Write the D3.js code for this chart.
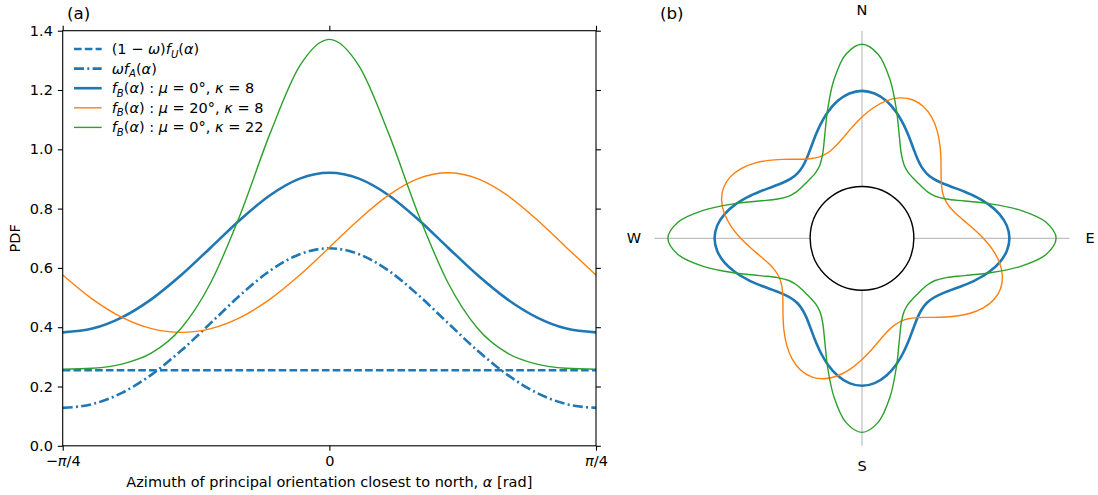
<!DOCTYPE html>
<html>
<head>
<meta charset="utf-8">
<script src="https://cdn.jsdelivr.net/npm/d3@7"></script>
<style>
  body { margin: 0; background: #fff; }
  svg { font-family: "DejaVu Sans", sans-serif; }
</style>
</head>
<body>
<div class="figure"></div>
<script>
// azimuth samples in degrees, -pi/4 .. pi/4
var alphaDeg = [-45, -40, -35, -30, -25, -20, -15, -10, -5, 0, 5, 10, 15, 20, 25, 30, 35, 40, 45];

// values
var uniformPdf = [0.2546, 0.2546, 0.2546, 0.2546, 0.2546, 0.2546, 0.2546, 0.2546, 0.2546, 0.2546,
                  0.2546, 0.2546, 0.2546, 0.2546, 0.2546, 0.2546, 0.2546, 0.2546, 0.2546];
var anisoPdf = [0.1279, 0.1406, 0.1786, 0.2402, 0.3212, 0.4144, 0.5087, 0.5906, 0.6463, 0.6662,
                0.6463, 0.5906, 0.5087, 0.4144, 0.3212, 0.2402, 0.1786, 0.1406, 0.1279];
var mu0k8Pdf = [0.3825, 0.3953, 0.4333, 0.4948, 0.5759, 0.6690, 0.7634, 0.8452, 0.9010, 0.9209,
                0.9010, 0.8452, 0.7634, 0.6690, 0.5759, 0.4948, 0.4333, 0.3953, 0.3825];
var mu20k8Pdf = [0.5759, 0.4948, 0.4333, 0.3953, 0.3825, 0.3953, 0.4333, 0.4948, 0.5759, 0.6690,
                 0.7634, 0.8452, 0.9010, 0.9209, 0.9010, 0.8452, 0.7634, 0.6690, 0.5759];
var mu0k22Pdf = [0.2582, 0.2616, 0.2756, 0.3132, 0.3967, 0.5509, 0.7821, 1.0537, 1.2812, 1.3709,
                 1.2812, 1.0537, 0.7821, 0.5509, 0.3967, 0.3132, 0.2756, 0.2616, 0.2582];

var yTicks = [0, 0.2, 0.4, 0.6, 0.8, 1.0, 1.2, 1.4];
var xTicks = [-45, 0, 45];
var xTickLabels = [[["\u2212"], ["\u03c0", "i"], ["/4"]], [["0"]], [["\u03c0", "i"], ["/4"]]];
var compassLabels = ["N", "E", "S", "W"];
var baseRadius = 0.5;   // polar curves are drawn as baseRadius + pdf
var polarMax = 2.0;

var series = [
  { values: uniformPdf, color: "#1f77b4", width: 2.6, dash: "7.6,3.2", polar: false,
    label: [["(1 \u2212 "], ["\u03c9", "i"], [")"], ["f", "i"], ["U", "si"], ["("], ["\u03b1", "i"], [")"]] },
  { values: anisoPdf, color: "#1f77b4", width: 2.6, dash: "10,3.3,2,3.3", polar: false,
    label: [["\u03c9", "i"], ["f", "i"], ["A", "si"], ["("], ["\u03b1", "i"], [")"]] },
  { values: mu0k8Pdf, color: "#1f77b4", width: 2.6, dash: null, polar: true,
    label: [["f", "i"], ["B", "si"], ["("], ["\u03b1", "i"], [") : "], ["\u03bc", "i"], [" = 0\u00b0, "], ["\u03ba", "i"], [" = 8"]] },
  { values: mu20k8Pdf, color: "#ff7f0e", width: 1.4, dash: null, polar: true,
    label: [["f", "i"], ["B", "si"], ["("], ["\u03b1", "i"], [") : "], ["\u03bc", "i"], [" = 20\u00b0, "], ["\u03ba", "i"], [" = 8"]] },
  { values: mu0k22Pdf, color: "#2ca02c", width: 1.4, dash: null, polar: true,
    label: [["f", "i"], ["B", "si"], ["("], ["\u03b1", "i"], [") : "], ["\u03bc", "i"], [" = 0\u00b0, "], ["\u03ba", "i"], [" = 22"]] }
];

var svgWidth = 1098;
var svgHeight = 495;
var fontSize = 14.5;
var panelFont = 16.7;

var svg = d3.select(".figure")
    .append("svg")
    .attr("width", svgWidth)
    .attr("height", svgHeight);

// write text made of plain / italic / subscript pieces
function mathText(sel, parts, size) {
  var shift = 0;
  parts.forEach(function(p) {
    var style = p[1] || "";
    var t = sel.append("tspan").text(p[0]);
    var want = style.indexOf("s") >= 0 ? size * 0.25 : 0;
    if (want !== shift) { t.attr("dy", want - shift); shift = want; }
    if (style.indexOf("i") >= 0) t.attr("font-style", "italic");
    if (style.indexOf("s") >= 0) t.attr("font-size", (size * 0.7) + "px");
  });
}

// ---------- panel (a) ----------
var a = { left: 62.7, right: 596, top: 30.7, bottom: 445.8 };

var x = d3.scaleLinear().domain([-45, 45]).range([a.left, a.right]);
var y = d3.scaleLinear().domain([0, 1.4]).range([a.bottom, a.top]);

var panelA = svg.append("g");

series.forEach(function(s) {
  var line = d3.line()
      .x(function(d, i) { return x(alphaDeg[i]); })
      .y(function(d) { return y(d); })
      .curve(d3.curveMonotoneX);
  panelA.append("path")
      .datum(s.values)
      .attr("d", line)
      .attr("fill", "none")
      .attr("stroke", s.color)
      .attr("stroke-width", s.width)
      .attr("stroke-dasharray", s.dash);
});

// spines
panelA.append("rect")
    .attr("x", a.left).attr("y", a.top)
    .attr("width", a.right - a.left).attr("height", a.bottom - a.top)
    .attr("fill", "none").attr("stroke", "#000").attr("stroke-width", 1.1);

var tickLen = 4.9;
var bottomAxis = d3.axisBottom(x).tickValues(xTicks).tickSize(tickLen).tickSizeOuter(0).tickPadding(4.9);
var topAxis = d3.axisTop(x).tickValues(xTicks).tickSize(tickLen).tickSizeOuter(0).tickFormat("");
var leftAxis = d3.axisLeft(y).tickValues(yTicks).tickSize(tickLen).tickSizeOuter(0).tickPadding(4.9)
    .tickFormat(d3.format(".1f"));
var rightAxis = d3.axisRight(y).tickValues(yTicks).tickSize(tickLen).tickSizeOuter(0).tickFormat("");

var gb = panelA.append("g").attr("transform", `translate(0, ${a.bottom})`).call(bottomAxis);
panelA.append("g").attr("transform", `translate(0, ${a.top})`).call(topAxis);
var gl = panelA.append("g").attr("transform", `translate(${a.left}, 0)`).call(leftAxis);
panelA.append("g").attr("transform", `translate(${a.right}, 0)`).call(rightAxis);

panelA.selectAll(".domain").remove();
panelA.selectAll(".tick line").attr("stroke", "#000").attr("stroke-width", 1.1);
panelA.selectAll(".tick text")
    .attr("font-family", "DejaVu Sans")
    .attr("font-size", fontSize + "px")
    .attr("fill", "#000");

gb.selectAll(".tick text").each(function(d, i) {
  var t = d3.select(this).text("");
  mathText(t, xTickLabels[i], fontSize);
});

// axis labels
var xl = panelA.append("text")
    .attr("x", (a.left + a.right) / 2)
    .attr("y", 487)
    .attr("text-anchor", "middle")
    .attr("font-size", fontSize + "px");
mathText(xl, [["Azimuth of principal orientation closest to north, "], ["\u03b1", "i"], [" [rad]"]], fontSize);

panelA.append("text")
    .attr("transform", `translate(20, ${(a.top + a.bottom) / 2}) rotate(-90)`)
    .attr("text-anchor", "middle")
    .attr("font-size", fontSize + "px")
    .text("PDF");

panelA.append("text")
    .attr("x", 67)
    .attr("y", 19)
    .attr("font-size", panelFont + "px")
    .text("(a)");

// legend
var legend = panelA.append("g");
series.forEach(function(s, i) {
  var yy = 49 + i * 19.6;
  legend.append("line")
      .attr("x1", 74).attr("x2", 101.7)
      .attr("y1", yy).attr("y2", yy)
      .attr("stroke", s.color)
      .attr("stroke-width", s.width)
      .attr("stroke-dasharray", s.dash);
  var t = legend.append("text")
      .attr("x", 111.7)
      .attr("y", yy + 5)
      .attr("font-size", fontSize + "px");
  mathText(t, s.label, fontSize);
});

// ---------- panel (b) ----------
var cx = 862, cy = 238.3;
var r = d3.scaleLinear().domain([0, polarMax]).range([0, 207.5]);
var panelB = svg.append("g").attr("transform", `translate(${cx}, ${cy})`);

// compass lines
[0, 90, 180, 270].forEach(function(deg) {
  var th = deg * Math.PI / 180;
  panelB.append("line")
      .attr("x1", 0).attr("y1", 0)
      .attr("x2", r(polarMax) * Math.sin(th))
      .attr("y2", -r(polarMax) * Math.cos(th))
      .attr("stroke", "#b0b0b0")
      .attr("stroke-width", 1);
});

panelB.append("circle")
    .attr("r", r(baseRadius))
    .attr("fill", "#fff")
    .attr("stroke", "#000")
    .attr("stroke-width", 1.4);

// 4-fold repetition of the quadrant pdf around the rose
series.filter(function(s) { return s.polar; }).forEach(function(s) {
  var pts = [];
  for (var k = 0; k < 4; k++) {
    for (var i = 0; i < alphaDeg.length - 1; i++) {
      pts.push({ theta: (alphaDeg[i] + 90 * k) * Math.PI / 180, rad: baseRadius + s.values[i] });
    }
  }
  var radial = d3.lineRadial()
      .angle(function(d) { return d.theta; })
      .radius(function(d) { return r(d.rad); })
      .curve(d3.curveCatmullRomClosed);
  panelB.append("path")
      .datum(pts)
      .attr("d", radial)
      .attr("fill", "none")
      .attr("stroke", s.color)
      .attr("stroke-width", s.width);
});

compassLabels.forEach(function(lab, i) {
  var th = i * Math.PI / 2;
  var rr = 228;
  panelB.append("text")
      .attr("x", rr * Math.sin(th))
      .attr("y", -rr * Math.cos(th))
      .attr("text-anchor", "middle")
      .attr("dominant-baseline", "central")
      .attr("font-size", fontSize + "px")
      .text(lab);
});

svg.append("text")
    .attr("x", 660)
    .attr("y", 19)
    .attr("font-size", panelFont + "px")
    .text("(b)");
</script>
</body>
</html>
